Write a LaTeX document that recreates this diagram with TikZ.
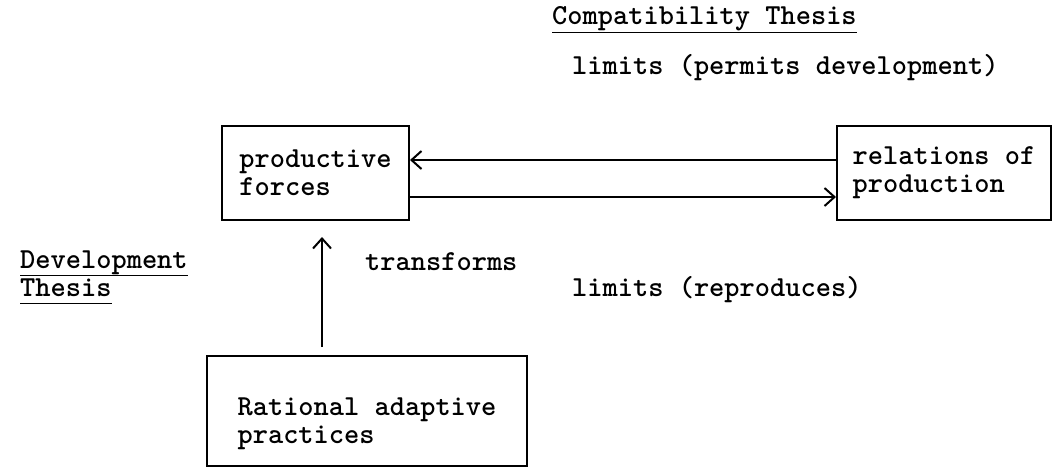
\documentclass[tikz,border=0pt]{standalone}
\usetikzlibrary{arrows.meta}
\newcommand\tw{\ttfamily\bfseries\fontsize{29}{28}\selectfont}

\begin{document}
\begin{tikzpicture}[x=1pt, y=-1pt, font=\tw,
    box/.style={draw=black, line width=2pt, anchor=north west, align=left, inner sep=0pt},
    arr/.style={line width=2pt, -{Straight Barb[length=10pt, width=18pt]}},
    lbl/.style={anchor=base west, inner sep=0pt}]
  \useasboundingbox (0,0) rectangle (1052,467);

  \node[lbl, name=ct] at (552,24) {\underline{Compatibility Thesis}};
  \node[lbl, name=lp] at (572,74) {limits (permits development)};

  \node[box, name=pf, minimum width=187pt, minimum height=94pt] at (221,125) {productive\\forces};
  \node[box, name=rp, minimum width=214pt, minimum height=94pt] at (836,125) {relations of\\production};
  \node[box, name=rap, minimum width=320pt, minimum height=110pt] at (206,355) {\rule{0pt}{44pt}Rational adaptive\\practices};

  \node[lbl, name=dev] at (20,268) {\underline{Development}};
  \node[lbl, name=thes] at (20,296) {\underline{Thesis\vphantom{p}}};
  \node[lbl, name=tr] at (365,270) {transforms};
  \node[lbl, name=lr] at (572,296) {limits (reproduces)};

  \path[arr]
     ([yshift=13pt]rp.west) edge ([yshift=13pt]pf.east)
     ([yshift=-24pt]pf.east) edge ([yshift=-24pt]rp.west)
     ([xshift=-45pt]rap.north) edge[shorten <=8pt, shorten >=16pt] ([xshift=6.5pt]pf.south);
\end{tikzpicture}
\end{document}
